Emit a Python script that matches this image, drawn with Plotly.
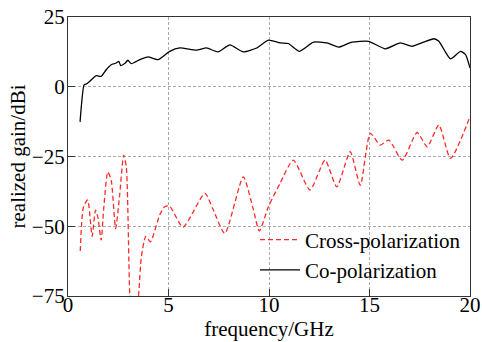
import plotly.graph_objects as go

co_freq = [0.6, 0.8, 0.91, 1.07, 1.4, 1.65, 1.9, 2.15, 2.4, 2.53, 2.62, 2.82, 2.98, 3.15,
           3.57, 3.98, 4.48, 5.06, 5.56, 6.39, 6.89, 7.47, 8.05, 8.72, 9.39, 9.97, 10.55,
           10.96, 11.51, 12.21, 12.88, 13.46, 14.12, 14.95, 15.79, 16.53, 17.12, 17.7,
           18.2, 18.45, 19.03, 19.53, 19.78, 20.0]
co_gain = [-12.6, 0.7, 1.0, 1.9, 4.0, 3.7, 6.1, 7.9, 8.5, 9.1, 7.6, 8.3, 9.5, 8.3,
           9.7, 10.7, 9.7, 12.7, 13.9, 13.1, 13.9, 12.5, 15.0, 12.5, 13.9, 16.7, 15.7,
           15.5, 12.7, 16.0, 15.7, 14.2, 16.0, 16.3, 13.6, 15.7, 14.5, 16.0,
           17.2, 16.3, 10.0, 12.7, 11.5, 6.7]

cx_freq = [0.61, 0.77, 0.98, 1.2, 1.37, 1.49, 1.65, 1.77, 1.98, 2.15, 2.37, 2.57, 2.77,
           2.9, 3.07, 3.25, 3.52, 3.65, 3.87, 4.1, 4.56, 4.81, 5.06, 5.72, 6.81, 7.22,
           7.8, 8.72, 9.22, 9.52, 9.97, 10.55, 11.21, 12.04, 12.79, 13.37, 14.04, 14.54,
           15.04, 15.54, 15.96, 16.63, 17.37, 17.87, 18.45, 19.03, 20.0]
cx_gain = [-58.9, -43.0, -40.6, -53.6, -44.2, -46.9, -55.0, -44.2, -30.5, -33.5, -50.8,
           -38.8, -24.5, -28.7, -74.0, -95.0, -74.0, -61.0, -53.6, -55.6, -46.0, -43.0,
           -42.8, -50.3, -38.2, -44.0, -52.6, -32.3, -44.0, -51.7, -43.0, -34.6, -26.3,
           -37.0, -26.3, -35.9, -23.3, -35.3, -16.7, -20.9, -19.1, -26.3, -16.4, -21.5,
           -13.7, -25.7, -10.7]

x_ticks = [0, 5, 10, 15, 20]
y_ticks = [-75, -50, -25, 0, 25]

font = dict(family="Liberation Serif, Times New Roman, serif", size=21, color="black")

fig = go.Figure()
fig.add_trace(go.Scatter(x=cx_freq, y=cx_gain, mode="lines", name="Cross-polarization",
                         line=dict(color="#ff2a2a", width=1.3, dash="5px,3px", shape="spline",
                                   smoothing=0.6)))
fig.add_trace(go.Scatter(x=co_freq, y=co_gain, mode="lines", name="Co-polarization",
                         line=dict(color="black", width=1.3, shape="spline", smoothing=0.5)))

axis_common = dict(showline=True, linecolor="#333", linewidth=1.2, mirror=True,
                   ticks="inside", ticklen=7, tickcolor="#333", automargin=False,
                   showgrid=True, gridcolor="#aaa", griddash="3px,2px", gridwidth=0.8,
                   zeroline=False, tickfont=font)
fig.update_xaxes(range=[0, 20], tickvals=x_ticks, ticklabelstandoff=-10,
                 title=dict(text="frequency/GHz", font=font, standoff=4),
                 **axis_common)
fig.update_yaxes(range=[-75, 25], tickvals=y_ticks, ticklabelstandoff=-2,
                 title=dict(text="realized gain/dBi", font=font, standoff=0),
                 **axis_common)

fig.update_layout(width=482, height=342, margin=dict(l=68, r=12, t=17, b=46),
                  plot_bgcolor="white", paper_bgcolor="white", font=font,
                  legend=dict(x=0.99, y=0.02, xanchor="right", yanchor="bottom",
                              bgcolor="rgba(255,255,255,0)", font=font,
                              tracegroupgap=0, itemwidth=40))

fig.write_html("out.html")
